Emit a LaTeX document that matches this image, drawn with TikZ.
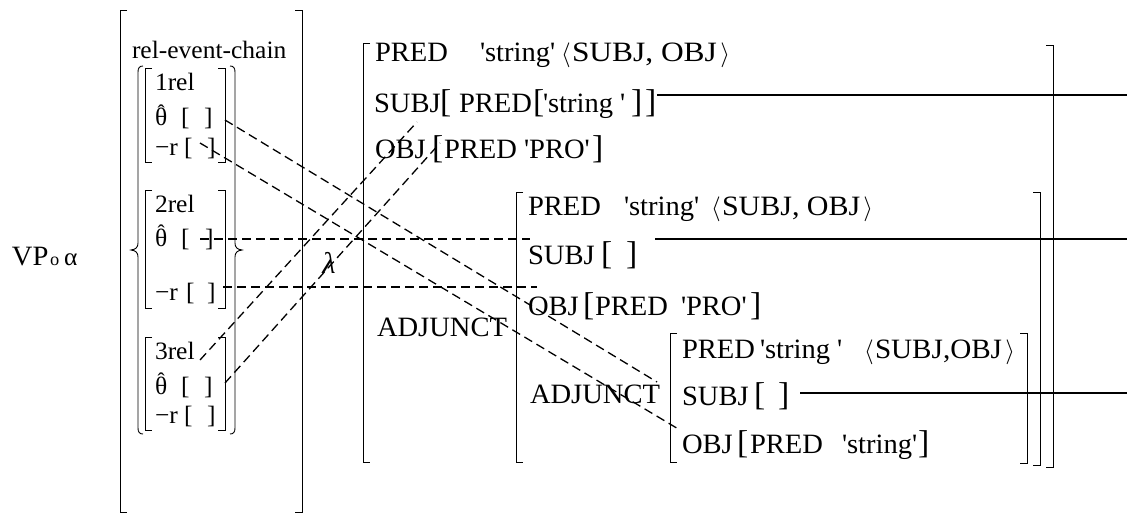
\documentclass[tikz,border=0pt]{standalone}
\usepackage{fontspec}
\setmainfont{Liberation Serif}[FakeStretch=1.02]
\usepackage{graphicx}

\newcommand\Fbig{\fontsize{28}{30}\selectfont}
\newcommand\Fsm{\fontsize{25}{27}\selectfont}
\newcommand\Fbk{\fontsize{33}{34}\selectfont}
\newcommand\Fsub{\fontsize{18}{19}\selectfont}
\newcommand\sq{\textquotesingle}
\newcommand\thhat{\ooalign{θ\cr\hidewidth\raisebox{6.5pt}{\fontsize{21}{21}\selectfont ˆ}\hidewidth\cr}}
\newcommand\AvmL[3]{\draw[brk] (#1+7,#2) -- (#1,#2) -- (#1,#3) -- (#1+7,#3);}
\newcommand\AvmR[3]{\draw[brk] (#1-7,#2) -- (#1,#2) -- (#1,#3) -- (#1-7,#3);}

\tikzset{
 ft/.style={anchor=base west, inner sep=0pt, outer sep=0pt, font=\Fbig},
 st/.style={anchor=base west, inner sep=0pt, outer sep=0pt, font=\Fsm},
 bk/.style={anchor=base west, inner sep=0pt, outer sep=0pt, font=\Fbk},
 brk/.style={line width=0.9pt},
 dsh/.style={line width=1.3pt, dash pattern=on 9pt off 5pt},
 sol/.style={line width=1.6pt},
}

\begin{document}
\begin{tikzpicture}[x=1pt,y=-1pt]
\useasboundingbox (0,0) rectangle (1127,516);

% ---------- VP label
\node[ft] (vp) at (12,265) {VP};
\node[anchor=base west, inner sep=0pt, font=\Fsub] (vpo) at (50,265) {o};
\node[st] (vpa) at (64,265) {α};

% ---------- left AVM
\AvmL{120}{10}{512}
\AvmR{302}{10}{512}
\node[st] (rec) at (132,59) {rel-event-chain};

% braces
\draw[brk] (143,66) .. controls (139.5,66) and (138,68) .. (138,72) -- (138,243)
  .. controls (138,247) and (136,249.5) .. (131,250)
  .. controls (136,250.5) and (138,253) .. (138,257) -- (138,428)
  .. controls (138,432) and (139.5,434) .. (143,434);
\draw[brk] (230,66) .. controls (233.5,66) and (235,68) .. (235,72) -- (235,243)
  .. controls (235,247) and (237,249.5) .. (242,250)
  .. controls (237,250.5) and (235,253) .. (235,257) -- (235,428)
  .. controls (235,432) and (233.5,434) .. (230,434);

% 1rel
\AvmL{145}{68}{162}
\AvmR{225}{68}{162}
\node[st] (r1a) at (155,91) {1rel};
\node[st] (r1b) at (155,126) {\thhat};
\node[st] (r1bo) at (181,126) {[};
\node[st] (r1bc) at (204,126) {]};
\node[st] (r1c) at (155,155) {−r};
\node[st] (r1co) at (184,155) {[};
\node[st] (r1cc) at (207,155) {]};

% 2rel
\AvmL{145}{190}{308}
\AvmR{225}{190}{308}
\node[st] (r2a) at (155,212) {2rel};
\node[st] (r2b) at (155,246) {\thhat};
\node[st] (r2bo) at (181,246) {[};
\node[st] (r2bc) at (205,246) {]};
\node[st] (r2c) at (155,300) {−r};
\node[st] (r2co) at (186,300) {[};
\node[st] (r2cc) at (207,300) {]};

% 3rel
\AvmL{145}{337}{430}
\AvmR{225}{337}{430}
\node[st] (r3a) at (155,359) {3rel};
\node[st] (r3b) at (155,394) {\thhat};
\node[st] (r3bo) at (181,394) {[};
\node[st] (r3bc) at (204,394) {]};
\node[st] (r3c) at (155,423) {−r};
\node[st] (r3co) at (184,423) {[};
\node[st] (r3cc) at (207,423) {]};

% lambda
\node[inner sep=0pt, font=\fontsize{30}{32}\selectfont\itshape] (lam) at (329,263) {λ};

% ---------- FS1
\AvmL{363}{43}{462}
\AvmR{1053}{45}{467}
\node[ft] (p1) at (375,62) {PRED};
\node[ft] (p1s) at (480,62) {\sq string\sq};
\node[ft] (p1l) at (561,62) {$\langle$};
\node[ft] (p1a) at (572,62) {\scalebox{1.1}[1]{SUBJ, OBJ}};
\node[ft, anchor=base east] (p1r) at (730,62) {$\rangle$};
\node[ft] (s1) at (374,113) {SUBJ};
\node[bk] (s1o) at (440,113) {[};
\node[ft] (s1p) at (459,113) {PRED};
\node[bk] (s1o2) at (533,113) {[};
\node[ft] (s1s) at (543,113) {\sq string \sq};
\node[bk] (s1c2) at (631,113) {]};
\node[bk] (s1c) at (645,113) {]};
\node[ft] (o1) at (375,158) {OBJ};
\node[bk] (o1o) at (432,158) {[};
\node[ft] (o1p) at (444,158) {PRED \sq PRO\sq};
\node[bk] (o1c) at (592,158) {]};
\node[ft] (adj1) at (377,336) {ADJUNCT};

% ---------- FS2
\AvmL{516}{192}{462}
\AvmR{1040}{192}{465}
\node[ft] (p2) at (528,215) {PRED};
\node[ft] (p2s) at (624,215) {\sq string\sq};
\node[ft] (p2l) at (711,215) {$\langle$};
\node[ft] (p2a) at (722,215) {\scalebox{1.05}[1]{SUBJ, OBJ}};
\node[ft, anchor=base east] (p2r) at (873,215) {$\rangle$};
\node[ft] (s2) at (528,264) {SUBJ};
\node[bk] (s2o) at (601,264) {[};
\node[bk] (s2c) at (626,264) {]};
\node[ft] (o2) at (528,315) {OBJ};
\node[bk] (o2o) at (583,315) {[};
\node[ft] (o2p) at (595,315) {PRED};
\node[ft] (o2s) at (681,315) {\sq PRO\sq};
\node[bk] (o2c) at (750,315) {]};
\node[ft] (adj2) at (530,403) {ADJUNCT};

% ---------- FS3
\AvmL{670}{333}{462}
\AvmR{1027}{333}{463}
\node[ft] (p3) at (682,358) {PRED};
\node[ft] (p3s) at (760,358) {\sq string \sq};
\node[ft] (p3l) at (864,358) {$\langle$};
\node[ft] (p3a) at (875,358) {\scalebox{1.02}[1]{SUBJ,OBJ}};
\node[ft, anchor=base east] (p3r) at (1015,358) {$\rangle$};
\node[ft] (s3) at (682,405) {SUBJ};
\node[bk] (s3o) at (754,405) {[};
\node[bk] (s3c) at (778,405) {]};
\node[ft] (o3) at (682,453) {OBJ};
\node[bk] (o3o) at (737,453) {[};
\node[ft] (o3p) at (750,453) {PRED};
\node[ft] (o3s) at (842,453) {\sq string\sq};
\node[bk] (o3c) at (918,453) {]};

% ---------- solid connectors
\coordinate (l1a) at (657,95);  \coordinate (l1b) at (1127,95);
\coordinate (l2a) at (655,239); \coordinate (l2b) at (1127,239);
\coordinate (l3a) at (800,393); \coordinate (l3b) at (1127,393);
\draw[sol] (l1a) -- (l1b);
\draw[sol] (l2a) -- (l2b);
\draw[sol] (l3a) -- (l3b);

% ---------- dashed connectors
\coordinate (a1) at (225,120); \coordinate (a2) at (657,382);
\coordinate (b1) at (200,143); \coordinate (b2) at (680,430);
\coordinate (c1) at (200,360); \coordinate (c2) at (417,122);
\coordinate (d1) at (225,383); \coordinate (d2) at (440,143);
\coordinate (e1) at (200,239); \coordinate (e2) at (530,239);
\coordinate (f1) at (223,287); \coordinate (f2) at (537,287);
\draw[dsh] (a1) -- (a2);
\draw[dsh] (b1) -- (b2);
\draw[dsh] (c1) -- (c2);
\draw[dsh] (d1) -- (d2);
\draw[dsh] (e1) -- (e2);
\draw[dsh] (f1) -- (f2);
\end{tikzpicture}
\end{document}
